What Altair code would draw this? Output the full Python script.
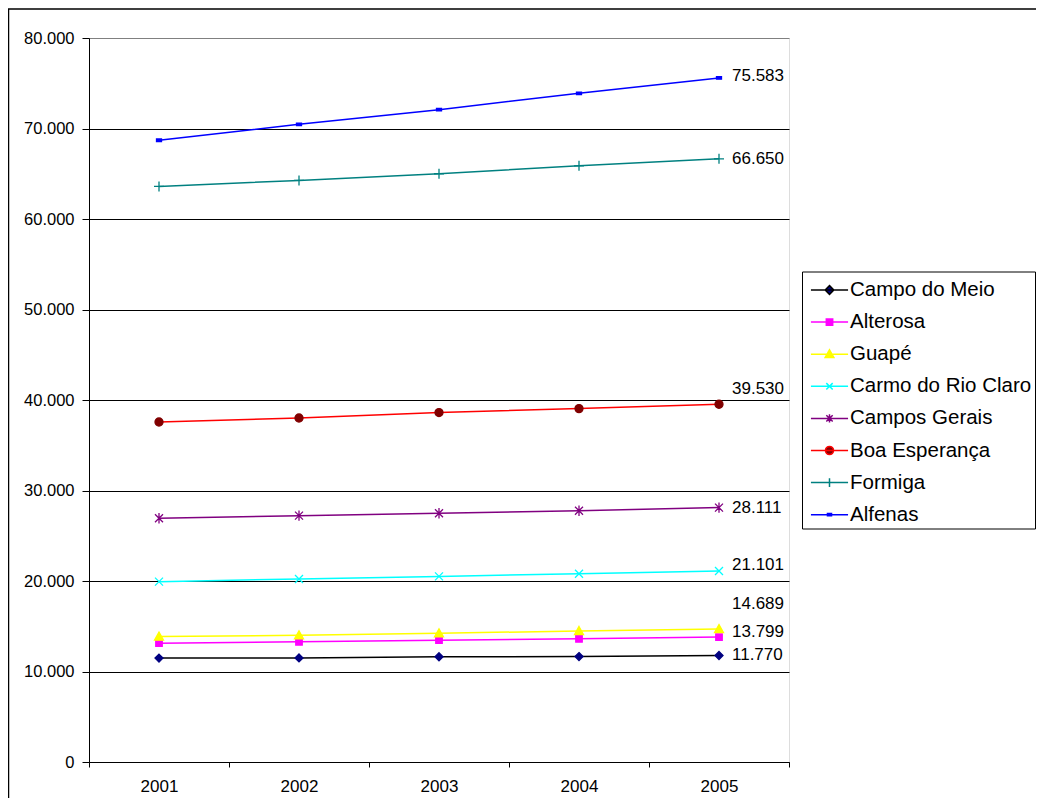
import altair as alt
import pandas as pd

years = ["2001", "2002", "2003", "2004", "2005"]
series = ["Campo do Meio", "Alterosa", "Guapé", "Carmo do Rio Claro",
          "Campos Gerais", "Boa Esperança", "Formiga", "Alfenas"]

campo_do_meio = [11480, 11500, 11630, 11650, 11770]
alterosa = [13130, 13280, 13460, 13610, 13799]
guape = [13860, 14000, 14220, 14480, 14689]
carmo = [19930, 20220, 20510, 20810, 21101]
campos_gerais = [26930, 27220, 27480, 27770, 28111]
boa_esperanca = [37570, 38010, 38610, 39050, 39530]
formiga = [63600, 64260, 65000, 65880, 66650]
alfenas = [68700, 70460, 72080, 73890, 75583]

values = [campo_do_meio, alterosa, guape, carmo, campos_gerais,
          boa_esperanca, formiga, alfenas]

y_ticks = [0, 10000, 20000, 30000, 40000, 50000, 60000, 70000, 80000]

# styles
line_colors = ["#000000", "#FF00FF", "#FFFF00", "#00FFFF", "#800080", "#FF0000", "#008080", "#0000FF"]
marker_colors = ["#000080", "#FF00FF", "#FFFF00", "#00FFFF", "#800080", "#800000", "#008080", "#0000FF"]
marker_paths = [
    "M0,-1L1,0L0,1L-1,0Z",
    "M-1,-1H1V1H-1Z",
    "M0,-1L1,0.8H-1Z",
    "M-1,-1L1,1M-1,1L1,-1",
    "M-1,-1L1,1M-1,1L1,-1M0,-1.3V1.3",
    "circle",
    "M-1,0H1M0,-1V1",
    "M-1,-0.5H1V0.5H-1Z",
]
marker_filled = [True, True, True, False, False, True, False, True]
marker_sizes = [64, 42, 81, 64, 64, 64, 100, 25]
label_dy = [0, -5, -25, -6, 0, -15, 0, -2]

# legend symbol paths (unit = 14.5 px)
L = "M-1.28,0H1.28"
legend_paths = [
    L + "M0,-0.3L0.3,0L0,0.3L-0.3,0Z",
    L + "M-0.22,-0.22H0.22V0.22H-0.22Z",
    L + "M0,-0.3L0.3,0.22H-0.3Z",
    L + "M-0.22,-0.22L0.22,0.22M-0.22,0.22L0.22,-0.22",
    L + "M-0.22,-0.22L0.22,0.22M-0.22,0.22L0.22,-0.22M0,-0.28V0.28",
    L + "M-0.28,0A0.28,0.28,0,1,0,0.28,0A0.28,0.28,0,1,0,-0.28,0Z",
    L + "M0,-0.3V0.3",
    L + "M-0.14,-0.08H0.14V0.08H-0.14Z",
]

rows = []
for s, vals in zip(series, values):
    for yr, v in zip(years, vals):
        rows.append({"series": s, "year": yr, "value": v})
df = pd.DataFrame(rows)

FONT = "Liberation Sans"

x_enc = alt.X("year:O", title=None,
              scale=alt.Scale(type="band", paddingInner=0, paddingOuter=0),
              axis=alt.Axis(tickBand="extent", labelAngle=0, labelFontSize=17,
                            labelFont=FONT, labelColor="black", tickSize=5,
                            tickColor="black", domainColor="black",
                            labelPadding=11, grid=False))
y_enc = alt.Y("value:Q", title=None,
              scale=alt.Scale(domain=[0, 80000], nice=False),
              axis=alt.Axis(values=y_ticks, labelFontSize=16.5, labelFont=FONT,
                            labelColor="black", tickSize=7, tickColor="black",
                            domainColor="black", labelPadding=8,
                            labelExpr="replace(format(datum.value, ','), ',', '.')",
                            grid=True,
                            gridColor={"condition": {"test": "datum.value == 80000", "value": "#808080"},
                                       "value": "#000000"},
                            gridWidth=1))

legend_props = dict(title=None, orient="none", legendX=713, legendY=233.5,
                    padding=3, strokeColor="black", fillColor="white",
                    labelFont=FONT, labelFontSize=20.5, labelColor="black",
                    labelLimit=400, symbolSize=841, symbolStrokeWidth=1.5,
                    symbolOffset=9, labelOffset=5, rowPadding=6.1,
                    symbolOpacity=1, symbolFillColor="white", symbolStrokeColor="black")

base = alt.Chart(df)

layers = []

# outer frame
frame = alt.Chart(pd.DataFrame({"a": [0]})).mark_rect(
    fill="transparent", stroke="black", strokeWidth=1.5
).encode(x=alt.value(-80.5), x2=alt.value(3000), y=alt.value(-29), y2=alt.value(3000))
layers.append(frame)

# axes carrier + legend (invisible points)
legend_layer = base.mark_point(filled=True, opacity=0).encode(
    x=x_enc, y=y_enc,
    fill=alt.Fill("series:N", scale=alt.Scale(domain=series, range=marker_colors),
                  legend=alt.Legend(**legend_props)),
    stroke=alt.Stroke("series:N", scale=alt.Scale(domain=series, range=line_colors),
                      legend=alt.Legend(**legend_props)),
    shape=alt.Shape("series:N", scale=alt.Scale(domain=series, range=legend_paths),
                    legend=alt.Legend(**legend_props)),
)
layers.append(legend_layer)

for i, s in enumerate(series):
    sub = base.transform_filter(alt.datum.series == s)
    layers.append(sub.mark_line(color=line_colors[i], strokeWidth=1.5).encode(x="year:O", y="value:Q"))
    layers.append(sub.mark_point(shape=marker_paths[i], filled=marker_filled[i],
                                 fill=marker_colors[i] if marker_filled[i] else "transparent",
                                 stroke=marker_colors[i],
                                 strokeWidth=1.3, size=marker_sizes[i], opacity=1)
                  .encode(x="year:O", y="value:Q"))
    layers.append(sub.transform_filter(alt.datum.year == "2005")
                  .transform_calculate(label="replace(format(datum.value, ','), ',', '.')")
                  .mark_text(align="left", baseline="middle", dx=13, dy=label_dy[i],
                             fontSize=17, font=FONT, color="black")
                  .encode(x="year:O", y="value:Q", text="label:N"))

chart = alt.layer(*layers).properties(
    width=700, height=724,
    autosize=alt.AutoSizeParams(type="none"),
    padding={"left": 81, "top": 30, "right": 247, "bottom": 36},
).configure_view(stroke="#808080", strokeWidth=1).configure(background="white")

chart.save("out.html", embed_options={"renderer": "svg", "actions": False})
